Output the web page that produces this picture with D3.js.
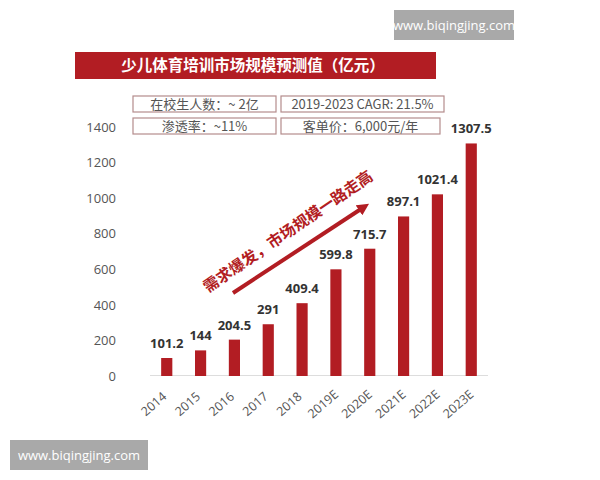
<!DOCTYPE html>
<html><head><meta charset="utf-8">
<script src="https://cdn.jsdelivr.net/npm/d3@7"></script>
<style>body{margin:0;background:#fff;}svg{display:block;font-family:"Noto Sans CJK SC","Noto Sans",sans-serif;}</style>
</head><body><svg id="c" width="600" height="480"></svg>
<script>
const categories = ["2014","2015","2016","2017","2018","2019E","2020E","2021E","2022E","2023E"];
const values = [101.2,144,204.5,291,409.4,599.8,715.7,897.1,1021.4,1307.5];
const valueLabels = ["101.2","144","204.5","291","409.4","599.8","715.7","897.1","1021.4","1307.5"];
const yTicks = [0,200,400,600,800,1000,1200,1400];
const title = "少儿体育培训市场规模预测值（亿元）";
const infoBoxes = [["在校生人数：~ 2亿","2019-2023 CAGR: 21.5%"],["渗透率：~11%","客单价：6,000元/年"]];
const arrowText = "需求爆发，市场规模一路走高";
const watermark = "www.biqingjing.com";

const red = "#b21d23";
const svg = d3.select("#c");

// watermarks
function wm(x,y,w,h){
  svg.append("rect").attr("x",x).attr("y",y).attr("width",w).attr("height",h).attr("fill","#a9a9a9");
  svg.append("text").attr("x",x+w/2).attr("y",y+h/2+5).attr("text-anchor","middle")
    .attr("fill","#fff").attr("font-size",13).attr("font-family","Open Sans, sans-serif").text(watermark);
}
wm(394,10,120,30);
wm(10,440,138,30);

// title banner
svg.append("rect").attr("x",75).attr("y",52).attr("width",361).attr("height",27).attr("fill",red);
svg.append("text").attr("x",253).attr("y",71).attr("text-anchor","middle").attr("fill","#fff")
  .attr("font-size",15.5).attr("font-weight","bold").text(title);

// info boxes
const boxX = [[133,143],[281,163]];
const boxY = [96,118];
infoBoxes.forEach((row,ri)=>row.forEach((t,ci)=>{
  const bx = boxX[ci][0], bw = ri===1&&ci===1 ? 159 : boxX[ci][1];
  svg.append("rect").attr("x",bx).attr("y",boxY[ri]).attr("width",bw).attr("height",16)
    .attr("fill","none").attr("stroke","#b48c8c").attr("stroke-width",1.2);
  svg.append("text").attr("x",bx+bw/2).attr("y",boxY[ri]+12.5).attr("text-anchor","middle")
    .attr("fill","#555").attr("font-size",13).text(t);
}));

// scales
const x = d3.scaleBand().domain(categories).range([150,488]).paddingInner(0.67).paddingOuter(0.33);
const y = d3.scaleLinear().domain([0,1400]).range([376,127]);

// y axis labels
const yAxis = d3.axisLeft(y).tickValues(yTicks).tickFormat(d3.format("d")).tickSize(0).tickPadding(0);
const gy = svg.append("g").attr("transform","translate(116,0)").call(yAxis);
gy.select(".domain").remove();
gy.selectAll("text").attr("fill","#555").attr("font-size",13).attr("font-family","Open Sans, sans-serif");

// baseline
svg.append("line").attr("x1",150).attr("x2",488).attr("y1",375.5).attr("y2",375.5).attr("stroke","#ddd").attr("stroke-width",1);

// bars
svg.selectAll("rect.bar").data(values).enter().append("rect").attr("class","bar")
  .attr("x",(d,i)=>x(categories[i])).attr("width",x.bandwidth())
  .attr("y",d=>y(d)).attr("height",d=>y(0)-y(d)).attr("fill",red);

// value labels
svg.selectAll("text.val").data(values).enter().append("text").attr("class","val")
  .attr("x",(d,i)=>x(categories[i])+x.bandwidth()/2).attr("y",d=>y(d)-10)
  .attr("text-anchor","middle").attr("fill","#333").attr("font-size",13).attr("font-weight","bold")
  .attr("font-family","Open Sans, sans-serif").text((d,i)=>valueLabels[i]);

// x axis labels
const xAxis = d3.axisBottom(x).tickSize(0).tickPadding(0);
const gx = svg.append("g").attr("transform","translate(0,376)").call(xAxis);
gx.select(".domain").remove();
gx.selectAll("text").attr("fill","#555").attr("font-size",12.5).attr("font-family","Open Sans, sans-serif")
  .attr("text-anchor","middle").attr("dy","0.35em")
  .attr("transform","translate(-13,28) rotate(-41)");

// arrow
const defs = svg.append("defs");
defs.append("marker").attr("id","ah").attr("viewBox","0 0 10 10").attr("refX",5).attr("refY",5)
  .attr("markerWidth",3).attr("markerHeight",3).attr("orient","auto")
  .append("path").attr("d","M0,0L10,5L0,10z").attr("fill",red);
svg.append("line").attr("x1",233).attr("y1",293).attr("x2",364).attr("y2",207)
  .attr("stroke",red).attr("stroke-width",4).attr("marker-end","url(#ah)");
svg.append("text").attr("transform","translate(291,236) rotate(-34.5)").attr("text-anchor","middle")
  .attr("fill",red).attr("font-size",15.5).attr("font-weight","bold").text(arrowText);
</script></body></html>
